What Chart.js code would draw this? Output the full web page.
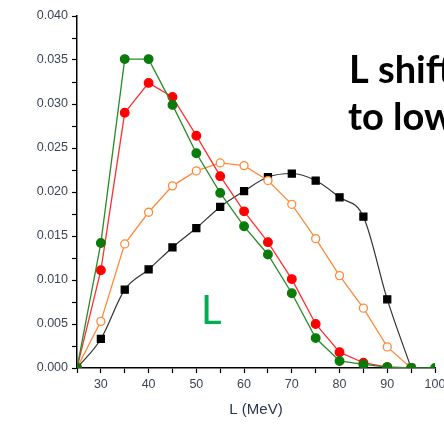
<!DOCTYPE html>
<html>
<head>
<meta charset="utf-8">
<script src="https://cdn.jsdelivr.net/npm/chart.js@4/dist/chart.umd.min.js"></script>
<style>
  html, body { margin: 0; padding: 0; background: #fff; overflow: hidden; }
  #wrap { position: absolute; left: 0; top: 0; width: 480px; height: 425px; }
</style>
</head>
<body>
<div id="wrap"><canvas id="chart" width="480" height="425"></canvas></div>
<script>
// L values (MeV)
const lValues = [25, 30, 35, 40, 45, 50, 55, 60, 65, 70, 75, 80, 85, 90, 95, 100];

// series
const greenVals  = [0, 0.0142, 0.0351, 0.0351, 0.0299, 0.0244, 0.0199, 0.0161, 0.0129, 0.0085, 0.0034, 0.0008, 0.0004, 0.0001, 0, 0];
const redVals    = [0, 0.0111, 0.0290, 0.0324, 0.0308, 0.0264, 0.0218, 0.0178, 0.0143, 0.0101, 0.0050, 0.0018, 0.0006, 0.0001, 0, null];
const orangeVals = [0, 0.0053, 0.0141, 0.0177, 0.0207, 0.0224, 0.0233, 0.0230, 0.0213, 0.0186, 0.0147, 0.0105, 0.0068, 0.0024, 0, null];
const blackVals  = [0, 0.0033, 0.0089, 0.0112, 0.0137, 0.0159, 0.0183, 0.0201, 0.0217, 0.0221, 0.0213, 0.0194, 0.0172, 0.0078, 0, null];

const xTicks = [30, 40, 50, 60, 70, 80, 90, 100];
const yTicks = [0, 0.005, 0.01, 0.015, 0.02, 0.025, 0.03, 0.035, 0.04];

function pts(vals) {
  return lValues.map((x, i) => ({ x: x, y: vals[i] }));
}

// overlay text
const notes = {
  id: 'notes',
  afterDraw(chart) {
    const ctx = chart.ctx;
    ctx.save();
    ctx.fillStyle = '#000';
    ctx.font = 'bold 38px Lato';
    ctx.textBaseline = 'alphabetic';
    ctx.fillText('L shift', 349, 83);
    ctx.fillText('to low', 348, 130);
    ctx.fillStyle = '#00b050';
    ctx.font = '40px Lato';
    ctx.fillText('L', 201, 324);
    ctx.restore();
  }
};

const tickFont = { family: 'Liberation Sans', size: 12.5 };

new Chart(document.getElementById('chart'), {
  type: 'line',
  data: {
    datasets: [
      {
        data: pts(greenVals),
        borderColor: '#2a8a2a',
        backgroundColor: '#0a7a0a',
        pointBackgroundColor: '#0a7a0a',
        pointBorderColor: '#0a7a0a',
        borderWidth: 1.3,
        pointRadius: 4.3,
        tension: 0
      },
      {
        data: pts(redVals),
        borderColor: '#ff3030',
        backgroundColor: '#ff0000',
        pointBackgroundColor: '#ff0000',
        pointBorderColor: '#ff0000',
        borderWidth: 1.3,
        pointRadius: 4.3,
        tension: 0
      },
      {
        data: pts(orangeVals),
        borderColor: '#ff8a3a',
        pointBackgroundColor: '#fff',
        pointBorderColor: '#ff8a3a',
        pointBorderWidth: 1.3,
        borderWidth: 1.3,
        pointRadius: 4,
        tension: 0
      },
      {
        data: pts(blackVals),
        borderColor: '#333',
        pointBackgroundColor: '#000',
        pointBorderColor: '#000',
        pointStyle: 'rect',
        borderWidth: 1.2,
        pointRadius: 5,
        cubicInterpolationMode: 'monotone'
      }
    ]
  },
  options: {
    responsive: false,
    animation: false,
    spanGaps: false,
    layout: { padding: { left: 0, top: 16, right: 45, bottom: 0 } },
    plugins: { legend: { display: false }, tooltip: { enabled: false } },
    scales: {
      x: {
        type: 'linear',
        min: 25,
        max: 100,
        afterFit: (s) => { s.height = 57; },
        afterBuildTicks: (s) => {
          const t = [];
          for (let v = 25; v <= 100; v += 5) t.push({ value: v });
          s.ticks = t;
        },
        ticks: {
          font: tickFont,
          color: '#3a4555',
          padding: 4,
          maxRotation: 0,
          autoSkip: false,
          callback: (v) => xTicks.includes(v) ? String(v) : ''
        },
        grid: { drawOnChartArea: false, tickLength: 5, tickColor: '#000', tickWidth: 1.2 },
        border: { color: '#000', width: 1.5 },
        title: {
          display: true,
          text: 'L (MeV)',
          font: { family: 'Liberation Sans', size: 15 },
          color: '#2a3550',
          padding: { top: 4, bottom: 6 }
        }
      },
      y: {
        min: 0,
        max: 0.04,
        afterFit: (s) => { s.width = 77; },
        afterBuildTicks: (s) => {
          const t = [];
          for (let i = 0; i <= 16; i++) t.push({ value: i * 0.0025 });
          s.ticks = t;
        },
        ticks: {
          font: tickFont,
          color: '#3a4555',
          padding: 4,
          autoSkip: false,
          callback: (v, i) => (i % 2 === 0) ? yTicks[i / 2].toFixed(3) : ''
        },
        grid: { drawOnChartArea: false, tickLength: 5, tickColor: '#000', tickWidth: 1.2 },
        border: { color: '#000', width: 1.5 }
      }
    }
  },
  plugins: [notes]
});
</script>
</body>
</html>
